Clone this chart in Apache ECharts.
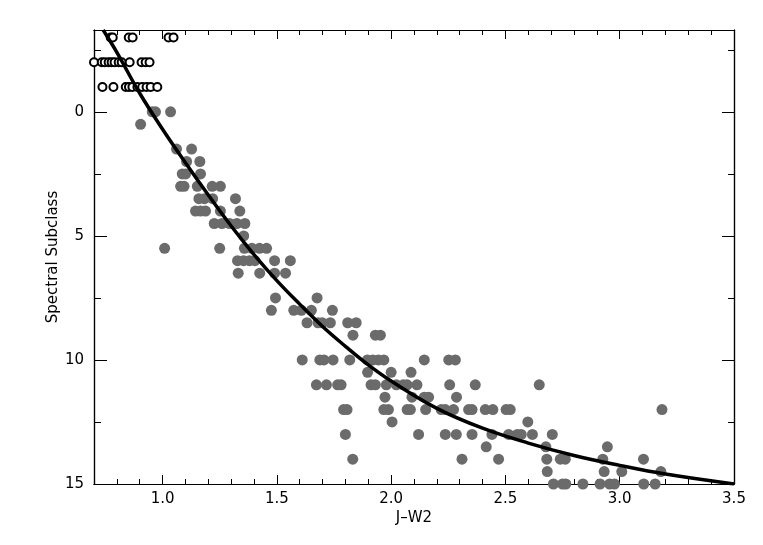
<!DOCTYPE html>
<html>
<head>
<meta charset="utf-8">
<script src="https://cdn.jsdelivr.net/npm/echarts@6/dist/echarts.min.js"></script>
<style>
  html, body { margin: 0; padding: 0; background: #fff; }
  #chart { width: 763px; height: 545px; }
</style>
</head>
<body>
<div id="chart"></div>
<script>
// axis ticks
const xMajorTicks = [1.0, 1.5, 2.0, 2.5, 3.0, 3.5];
const xMinorTicks = [0.8, 0.9, 1.1, 1.2, 1.3, 1.4, 1.6, 1.7, 1.8, 1.9, 2.1, 2.2, 2.3, 2.4,
  2.6, 2.7, 2.8, 2.9, 3.1, 3.2, 3.3, 3.4];
const yMajorTicks = [0, 5, 10, 15];
const yMinorTicks = [-2.5, 2.5, 7.5, 12.5];

// open circles: [J-W2, subclass]
const openPoints = [
  [0.773, -3], [0.782, -3], [0.852, -3], [0.869, -3], [1.026, -3], [1.048, -3],
  [0.700, -2], [0.734, -2], [0.747, -2], [0.764, -2], [0.777, -2], [0.790, -2],
  [0.808, -2], [0.821, -2], [0.856, -2], [0.908, -2], [0.926, -2], [0.943, -2],
  [0.737, -1], [0.785, -1], [0.839, -1], [0.853, -1], [0.868, -1], [0.890, -1],
  [0.911, -1], [0.930, -1], [0.948, -1], [0.977, -1]
];

// filled circles: [J-W2, subclass]
const filledPoints = [
  [0.904, 0.5],
  [0.955, 0], [0.969, 0], [1.035, 0],
  [1.061, 1.5], [1.127, 1.5],
  [1.105, 2], [1.163, 2],
  [1.086, 2.5], [1.101, 2.5], [1.166, 2.5],
  [1.079, 3], [1.094, 3], [1.152, 3], [1.217, 3], [1.253, 3],
  [1.159, 3.5], [1.183, 3.5], [1.219, 3.5], [1.319, 3.5],
  [1.144, 4], [1.166, 4], [1.188, 4], [1.253, 4], [1.338, 4],
  [1.226, 4.5], [1.260, 4.5], [1.293, 4.5], [1.325, 4.5], [1.360, 4.5],
  [1.355, 5],
  [1.009, 5.5], [1.250, 5.5], [1.358, 5.5], [1.391, 5.5], [1.424, 5.5], [1.455, 5.5],
  [1.328, 6], [1.354, 6], [1.380, 6], [1.404, 6], [1.490, 6], [1.559, 6],
  [1.331, 6.5], [1.425, 6.5], [1.490, 6.5], [1.538, 6.5],
  [1.494, 7.5], [1.676, 7.5],
  [1.476, 8], [1.574, 8], [1.607, 8], [1.651, 8], [1.743, 8],
  [1.632, 8.5], [1.680, 8.5], [1.698, 8.5], [1.734, 8.5], [1.810, 8.5], [1.847, 8.5],
  [1.833, 9], [1.931, 9], [1.953, 9],
  [1.611, 10], [1.688, 10], [1.706, 10], [1.746, 10], [1.819, 10], [1.896, 10],
  [1.920, 10], [1.944, 10], [1.968, 10], [2.145, 10], [2.252, 10], [2.281, 10],
  [1.897, 10.5], [2.000, 10.5], [2.087, 10.5],
  [1.673, 11], [1.717, 11], [1.766, 11], [1.781, 11], [1.912, 11], [1.931, 11],
  [1.979, 11], [2.023, 11], [2.053, 11], [2.070, 11], [2.113, 11], [2.256, 11],
  [2.368, 11], [2.648, 11],
  [1.973, 11.5], [2.091, 11.5], [2.145, 11.5], [2.164, 11.5], [2.286, 11.5],
  [1.792, 12], [1.807, 12], [1.968, 12], [1.988, 12], [2.070, 12], [2.084, 12],
  [2.151, 12], [2.219, 12], [2.237, 12], [2.273, 12], [2.339, 12], [2.354, 12],
  [2.412, 12], [2.445, 12], [2.503, 12], [2.521, 12], [3.185, 12],
  [2.004, 12.5], [2.598, 12.5],
  [1.800, 13], [2.120, 13], [2.237, 13], [2.285, 13], [2.354, 13], [2.441, 13],
  [2.514, 13], [2.552, 13], [2.569, 13], [2.618, 13], [2.705, 13],
  [2.416, 13.5], [2.677, 13.5], [2.946, 13.5],
  [1.832, 14], [2.310, 14], [2.470, 14], [2.681, 14], [2.740, 14], [2.762, 14],
  [2.926, 14], [3.104, 14],
  [2.683, 14.5], [2.932, 14.5], [3.009, 14.5], [3.180, 14.5],
  [2.710, 15], [2.750, 15], [2.764, 15], [2.839, 15], [2.914, 15], [2.956, 15],
  [2.977, 15], [3.105, 15], [3.155, 15]
];

// fitted relation
const curveX = [0.74, 0.8, 0.9, 1.0, 1.1, 1.2, 1.3, 1.4, 1.5, 1.6, 1.7, 1.8, 1.9, 2.0,
  2.2, 2.4, 2.6, 2.8, 3.0, 3.2, 3.5];
const curveY = [-3.3, -2.4, -0.75, 0.7, 2.05, 3.35, 4.6, 5.75, 6.8, 7.75, 8.65, 9.45,
  10.2, 10.85, 11.95, 12.75, 13.35, 13.85, 14.25, 14.6, 15.0];

const FONT = "DejaVu Sans";
const xMin = 0.7, xMax = 3.5, yMin = -3.3, yMax = 15;

function xAx(pos, ticks, len, withLabel) {
  return {
    type: "value", position: pos, min: xMin, max: xMax,
    axisLine: { show: true, onZero: false, lineStyle: { color: "#000", width: 1.2 } },
    axisTick: { show: true, inside: true, length: len, customValues: ticks,
      lineStyle: { color: "#000", width: 1 } },
    axisLabel: withLabel ? {
      show: true, customValues: ticks, margin: 8, color: "#000",
      fontFamily: FONT, fontSize: 15,
      formatter: (v) => v.toFixed(1)
    } : { show: false },
    splitLine: { show: false },
    name: withLabel ? "J\u2013W2" : "",
    nameLocation: "middle", nameGap: 27, nameMoveOverlap: false,
    nameTextStyle: { color: "#000", fontFamily: FONT, fontSize: 15 }
  };
}

function yAx(pos, ticks, len, withLabel) {
  return {
    type: "value", position: pos, min: yMin, max: yMax, inverse: true,
    axisLine: { show: true, onZero: false, lineStyle: { color: "#000", width: 1.2 } },
    axisTick: { show: true, inside: true, length: len, customValues: ticks,
      lineStyle: { color: "#000", width: 1 } },
    axisLabel: withLabel ? {
      show: true, customValues: ticks, margin: 10, color: "#000",
      fontFamily: FONT, fontSize: 15
    } : { show: false },
    splitLine: { show: false },
    name: withLabel ? "Spectral Subclass" : "",
    nameLocation: "middle", nameGap: 33, nameRotate: 90, nameMoveOverlap: false,
    nameTextStyle: { color: "#000", fontFamily: FONT, fontSize: 15 }
  };
}

const chart = echarts.init(document.getElementById("chart"));
chart.setOption({
  animation: false,
  backgroundColor: "#fff",
  grid: { left: 94, right: 29, top: 30, bottom: 61 },
  xAxis: [
    xAx("bottom", xMajorTicks, 9, true),
    xAx("bottom", xMinorTicks, 5, false),
    xAx("top", xMajorTicks, 9, false),
    xAx("top", xMinorTicks, 5, false)
  ],
  yAxis: [
    yAx("left", yMajorTicks, 13, true),
    yAx("left", yMinorTicks, 7, false),
    yAx("right", yMajorTicks, 12, false),
    yAx("right", yMinorTicks, 6, false)
  ],
  series: [
    {
      type: "scatter", data: filledPoints, symbol: "circle", symbolSize: 11,
      itemStyle: { color: "#6b6b6b", opacity: 1 }, z: 2
    },
    {
      type: "scatter", data: openPoints, symbol: "emptyCircle", symbolSize: 8,
      itemStyle: { color: "#000", borderColor: "#000", borderWidth: 0.7, opacity: 1 }, z: 2
    },
    {
      type: "line", data: curveX.map((x, i) => [x, curveY[i]]), smooth: 0.4,
      showSymbol: false, lineStyle: { color: "#000", width: 3.5 }, z: 3,
      clip: true
    }
  ]
});
</script>
</body>
</html>
